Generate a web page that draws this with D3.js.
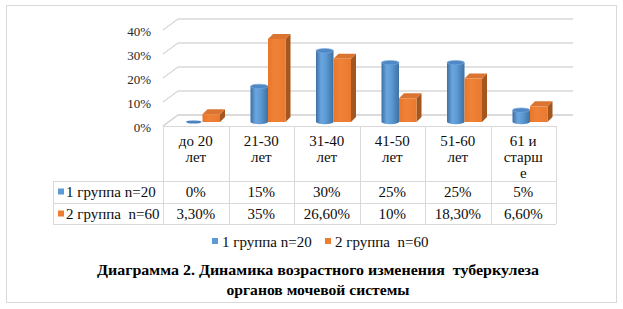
<!DOCTYPE html>
<html><head><meta charset="utf-8">
<script src="https://cdn.jsdelivr.net/npm/d3@7"></script>
</head>
<body style="margin:0;background:#fff">
<svg id="c" width="623" height="309" style="display:block;font-family:'Liberation Serif',serif"></svg>
<script>
const categories = ["до 20 лет","21-30 лет","31-40 лет","41-50 лет","51-60 лет","61 и старше"];
const categoryLines = [["до 20","лет"],["21-30","лет"],["31-40","лет"],["41-50","лет"],["51-60","лет"],["61 и","старш","е"]];
const seriesNames = ["1 группа n=20","2 группа\u00a0 n=60"];
const group1 = [0,15,30,25,25,5];
const group2 = [3.3,35,26.6,10,18.3,6.6];
const yTicks = [0,10,20,30,40];
const titleLines = ["Диаграмма 2. Динамика возрастного изменения\u00a0 туберкулеза","органов мочевой системы"];

const fmt = v => Number.isInteger(v) ? v + "%" : v.toFixed(2).replace(".", ",") + "%";
const series = [group1, group2];

const svg = d3.select("#c");
const defs = svg.append("defs");
const g1 = defs.append("linearGradient").attr("id","cyl").attr("x1","0").attr("x2","1").attr("y1","0").attr("y2","0");
[[0,"#3C6FA6"],[0.3,"#6BA6DE"],[0.55,"#5E9CD6"],[1,"#3E71A3"]].forEach(([o,c])=>g1.append("stop").attr("offset",o).attr("stop-color",c));
const g2 = defs.append("linearGradient").attr("id","box").attr("x1","0").attr("x2","1").attr("y1","0").attr("y2","0");
[[0,"#E8772B"],[0.4,"#F08237"],[1,"#E97A2F"]].forEach(([o,c])=>g2.append("stop").attr("offset",o).attr("stop-color",c));

svg.append("rect").attr("x",6.5).attr("y",5.5).attr("width",610).attr("height",297)
  .attr("fill","#fff").attr("stroke","#d9d9d9").attr("stroke-width",1);

const grid = "#d9d9d9";
const x = d3.scaleBand().domain(categories).range([163,556]).padding(0);
const xs = d3.scaleBand().domain(seriesNames).range([22,57]).padding(0);
const yBack = d3.scaleLinear().domain([0,40]).range([115,19]);
const yBar = d3.scaleLinear().domain([0,40]).range([122,27]);
const depthX = 15, depthY = 11;
const plotRight = 573;

const txt = (sel, size, bold) => {
  sel.style("font-family","Liberation Serif").style("font-size", size + "px");
  if (bold) sel.style("font-weight","bold");
};

yTicks.forEach(t => {
  const yb = yBack(t);
  svg.append("line").attr("x1",163+depthX).attr("x2",plotRight).attr("y1",yb).attr("y2",yb)
    .attr("stroke",grid).attr("stroke-width",1.5);
  svg.append("line").attr("x1",163).attr("y1",yb+depthY).attr("x2",163+depthX).attr("y2",yb)
    .attr("stroke",grid).attr("stroke-width",1.5);
  svg.append("text").call(txt, 13).attr("x",151).attr("y",yb+depthY+5.5)
    .attr("text-anchor","end").attr("fill","#262626").text(t + "%");
});
svg.append("path").attr("d",`M163,${yBack(0)+depthY} L${163+depthX},${yBack(0)} L${plotRight},${yBack(0)}`)
  .attr("fill","none").attr("stroke",grid).attr("stroke-width",1.5);

categories.forEach((c, i) => {
  const base = yBar(0);
  {
    const xl = x(c) + xs(seriesNames[0]);
    const w = xs.bandwidth();
    const rx = w/2, ry = 2.2, cx = xl + rx;
    const yt = yBar(group1[i]);
    if (group1[i] > 0) {
      svg.append("path")
        .attr("d",`M${xl},${yt} L${xl},${base} A${rx},${ry} 0 0 0 ${xl+w},${base} L${xl+w},${yt} Z`)
        .attr("fill","url(#cyl)");
      svg.append("ellipse").attr("cx",cx).attr("cy",yt).attr("rx",rx).attr("ry",ry)
        .attr("fill","#4F88C4").attr("stroke","#79ABDD").attr("stroke-width",0.6);
    } else {
      svg.append("ellipse").attr("cx",cx).attr("cy",base).attr("rx",rx-1).attr("ry",1.6)
        .attr("fill","#4A82BE");
    }
  }
  {
    const xo = x(c) + xs(seriesNames[1]);
    const w = xs.bandwidth();
    const d = 5;
    const yt = yBar(group2[i]);
    svg.append("path").attr("d",`M${xo+w},${yt} L${xo+w+d},${yt-d} L${xo+w+d},${base-d} L${xo+w},${base} Z`)
      .attr("fill","#A4561F");
    svg.append("path").attr("d",`M${xo},${yt} L${xo+d},${yt-d} L${xo+w+d},${yt-d} L${xo+w},${yt} Z`)
      .attr("fill","#DB7430");
    svg.append("rect").attr("x",xo).attr("y",yt).attr("width",w).attr("height",base-yt)
      .attr("fill","url(#box)");
  }
});

const tTop = 126, r1 = 181, r2 = 203, r3 = 224, tLeft = 53;
const tcol = "#d9d9d9";
const tl = (x1,y1,x2,y2) => svg.append("line").attr("x1",x1).attr("y1",y1).attr("x2",x2).attr("y2",y2)
  .attr("stroke",tcol).attr("stroke-width",1);
tl(163,tTop+0.5,556,tTop+0.5);
[r1,r2,r3].forEach(y=>tl(tLeft,y+0.5,556,y+0.5));
tl(tLeft+0.5,r1,tLeft+0.5,r3);
categories.forEach(c=>tl(Math.round(x(c))+0.5,tTop,Math.round(x(c))+0.5,r3));
tl(556.5,tTop,556.5,r3);

categories.forEach((c,i)=>{
  const cx = x(c) + x.bandwidth()/2;
  categoryLines[i].forEach((ln,j)=>{
    svg.append("text").call(txt, 15).attr("x",cx).attr("y",146+j*16).attr("text-anchor","middle")
      .attr("fill","#0d0d0d").text(ln);
  });
  series.forEach((s,k)=>{
    svg.append("text").call(txt, 15).attr("x",cx).attr("y",k===0?197:219).attr("text-anchor","middle")
      .attr("fill","#0d0d0d").text(fmt(s[i]));
  });
});
const colors = ["#5B9BD5","#ED7D31"];
seriesNames.forEach((n,k)=>{
  const yc = k===0?192:214;
  svg.append("rect").attr("x",58).attr("y",yc-3.5).attr("width",6).attr("height",6).attr("fill",colors[k]);
  svg.append("text").call(txt, 15).attr("x",66).attr("y",yc+5).attr("fill","#0d0d0d").text(n);
});

const legX = [212,325];
seriesNames.forEach((n,k)=>{
  svg.append("rect").attr("x",legX[k]).attr("y",238).attr("width",6).attr("height",6).attr("fill",colors[k]);
  svg.append("text").call(txt, 15).attr("x",legX[k]+10).attr("y",246.5).attr("fill","#0d0d0d").text(n);
});

const tLens = [442,183];
titleLines.forEach((t,j)=>{
  svg.append("text").call(txt, 15, true).attr("x",318).attr("y",275+j*20).attr("text-anchor","middle")
    .attr("fill","#000").attr("textLength",tLens[j]).attr("lengthAdjust","spacingAndGlyphs").text(t);
});
</script>
</body></html>
